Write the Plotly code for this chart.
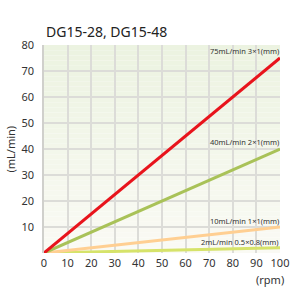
import plotly.graph_objects as go

rpm = [0, 100]
flow_75 = [0, 75]
flow_40 = [0, 40]
flow_10 = [0, 10]
flow_2 = [0, 2]
labels = ["75mL/min 3×1(mm)", "40mL/min 2×1(mm)", "10mL/min 1×1(mm)", "2mL/min 0.5×0.8(mm)"]
label_y = [75.6, 40.8, 10.5, 2.4]
x_ticks = [0, 10, 20, 30, 40, 50, 60, 70, 80, 90, 100]
y_ticks = [10, 20, 30, 40, 50, 60, 70, 80]

fig = go.Figure()
series = [(flow_2, "#d6e36a"), (flow_10, "#ffcf92"), (flow_40, "#a9c258"), (flow_75, "#e8141c")]
for ys, col in series:
    fig.add_trace(go.Scatter(x=rpm, y=ys, mode="lines",
                             line=dict(color=col, width=3), showlegend=False, hoverinfo="skip"))

for t, yv in zip(labels, label_y):
    fig.add_annotation(x=100, y=yv, text=t, showarrow=False, xanchor="right", yanchor="bottom",
                       font=dict(size=7.5, color="#333333", family="Noto Sans"), yshift=-2, xshift=1)

# gradient background
n = 40
top = (236, 243, 225)
bot = (250, 250, 244)
for i in range(n):
    f = i / (n - 1)
    c = tuple(int(round(bot[k] + (top[k] - bot[k]) * f)) for k in range(3))
    fig.add_shape(type="rect", xref="paper", yref="paper", x0=0, x1=1,
                  y0=i / n, y1=(i + 1) / n, line=dict(width=0),
                  fillcolor="rgb(%d,%d,%d)" % c, layer="below")

fig.add_annotation(xref="paper", yref="paper", x=0, y=1, xanchor="left", yanchor="bottom",
                   text="DG15-28, DG15-48", showarrow=False, yshift=2,
                   font=dict(size=14, color="#222222", family="Noto Sans"))
fig.add_annotation(xref="paper", yref="paper", x=1.0, y=0, xanchor="right", yanchor="top",
                   text="(rpm)", showarrow=False, yshift=-17, xshift=6,
                   font=dict(size=11, color="#333333", family="Noto Sans"))
fig.add_annotation(xref="paper", yref="paper", x=0, y=0.5, xanchor="right", yanchor="middle",
                   text="(mL/min)", showarrow=False, textangle=-90, xshift=-25,
                   font=dict(size=11, color="#333333", family="Noto Sans"))

fig.update_layout(
    width=300, height=300,
    margin=dict(l=44, r=20, t=45, b=47),
    paper_bgcolor="white", plot_bgcolor="white",
    font=dict(family="Noto Sans", size=11, color="#333333"),
)
fig.update_xaxes(range=[0, 100], tickvals=x_ticks, showgrid=True, gridcolor="#dcdcd8", gridwidth=1.5,
                 zeroline=False, showline=False, ticks="", tickfont=dict(size=11), ticklabelstandoff=2)
fig.update_yaxes(range=[0, 80], tickvals=y_ticks, showgrid=True, gridcolor="#dcdcd8", gridwidth=1.5,
                 zeroline=False, showline=True, linecolor="#d0d0cc", linewidth=1.5, ticks="",
                 tickfont=dict(size=11), ticklabelstandoff=6)

fig.write_html("out.html")
